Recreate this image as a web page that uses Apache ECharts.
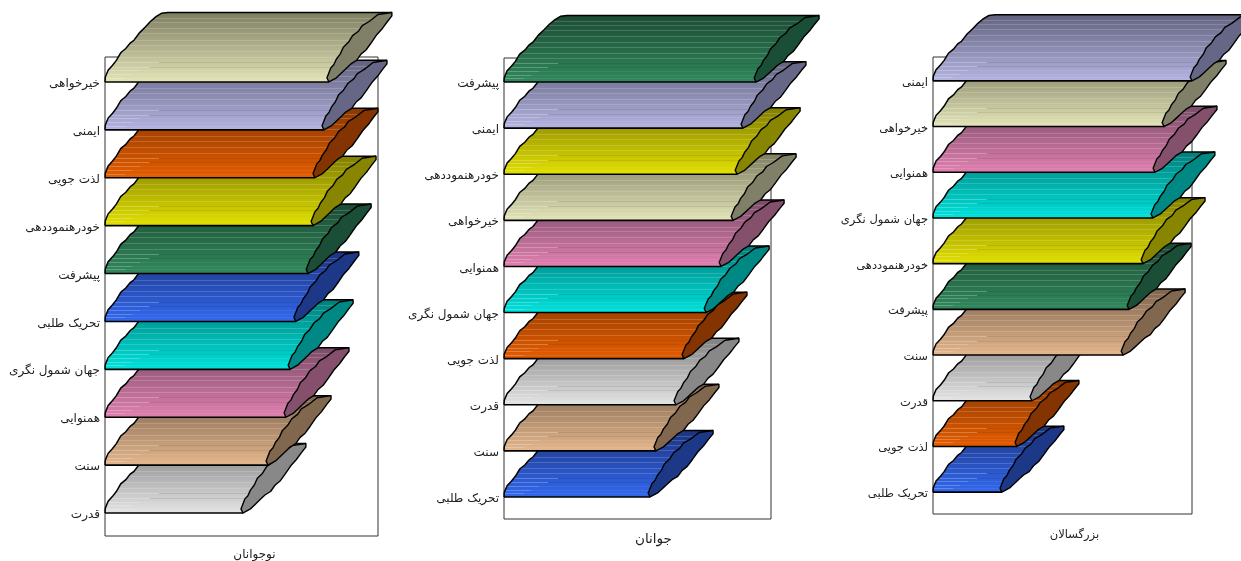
<!DOCTYPE html>
<html><head><meta charset="utf-8">
<style>html,body{margin:0;padding:0;background:#fff}#c{width:1241px;height:561px}</style>
<script src="https://cdn.jsdelivr.net/npm/echarts@6/dist/echarts.min.js"></script>
</head><body><div id="c"></div>
<script>
// Data, listed top row first (percent of each panel's axis)
const titles = ['نوجوانان', 'جوانان', 'بزرگسالان'];
const catsTeen = ['خیرخواهی','ایمنی','لذت جویی','خودرهنموددهی','پیشرفت','تحریک طلبی','جهان شمول نگری','همنوایی','سنت','قدرت'];
const valsTeen = [82.0,80.2,76.9,76.2,74.4,69.9,67.8,66.3,59.7,50.5];
const catsYoung = ['پیشرفت','ایمنی','خودرهنموددهی','خیرخواهی','همنوایی','جهان شمول نگری','لذت جویی','قدرت','سنت','تحریک طلبی'];
const valsYoung = [94.4,89.5,87.3,85.8,81.3,75.7,67.4,64.4,56.9,54.7];
const catsAdult = ['ایمنی','خیرخواهی','همنوایی','جهان شمول نگری','خودرهنموددهی','پیشرفت','سنت','قدرت','لذت جویی','تحریک طلبی'];
const valsAdult = [100,89.2,85.7,84.9,81.1,75.7,73.4,38.2,32.4,26.6];

// Styling: [front colour, back colour, side colour] for each value name
const palette = {
  'خیرخواهی':['#e4e4b8','#7e7e62','#808068'],
  'ایمنی':['#b4b4e2','#62627f','#666686'],
  'لذت جویی':['#e45c00','#8a3800','#843400'],
  'خودرهنموددهی':['#e2e000','#807e00','#888600'],
  'پیشرفت':['#30885c','#1c4c34','#1a4e36'],
  'تحریک طلبی':['#3268ee','#1c3480','#1e3888'],
  'جهان شمول نگری':['#00e2dc','#007e7a','#008884'],
  'همنوایی':['#e080b0','#7c4c68','#84506c'],
  'سنت':['#e4b68c','#7e654e','#82674f'],
  'قدرت':['#e4e4e4','#808080','#888888']
};
const panels = [
  {cats:catsTeen, vals:valsTeen, left:105, top:57, width:273, height:479, dx:63, dy:69.5, nameGap:13, nameSize:12, namePad:26, labelSize:12},
  {cats:catsYoung, vals:valsYoung, left:504, top:58, width:267, height:461, dx:63, dy:66.5, nameGap:13, nameSize:13.5, namePad:32, labelSize:12},
  {cats:catsAdult, vals:valsAdult, left:933, top:57, width:259, height:457, dx:62, dy:66, nameGap:15, nameSize:11.5, namePad:24, labelSize:11.5}
];
// Bar outline shapes, as fractions of the panel's depth offset
const leftEdge = [[0,0],[0.005,-0.07],[0.05,-0.17],[0.12,-0.24],[0.18,-0.31],[0.25,-0.42],[0.33,-0.48],[0.4,-0.56],[0.46,-0.6],[0.55,-0.71],[0.64,-0.79],[0.72,-0.87],[0.81,-0.94],[0.9,-0.99],[1,-1]];
const lensUpper = [[-0.03,-0.06],[0.03,-0.2],[0.08,-0.25],[0.12,-0.33],[0.18,-0.4],[0.23,-0.5],[0.31,-0.57],[0.38,-0.67],[0.47,-0.73],[0.53,-0.81],[0.64,-0.87],[0.78,-0.97],[1,-1]];
const lensLower = [[1,-0.95],[0.93,-0.87],[0.85,-0.77],[0.76,-0.68],[0.67,-0.56],[0.59,-0.46],[0.51,-0.4],[0.44,-0.31],[0.35,-0.26],[0.27,-0.19],[0.19,-0.12],[0.12,-0.06],[0,0]];
const stripeT = [0.06,0.11,0.165,0.22,0.285,0.36,0.44,0.53,0.6,0.7,0.78,0.86,0.92];
const stubLen = [20,26,32,38,44];

function edgeX(edge, t){
  for(let i=1;i<edge.length;i++){
    const a=edge[i-1], b=edge[i];
    if(-b[1]>=t){ const r=(t+a[1])/((-b[1]+a[1])||1); return a[0]+(b[0]-a[0])*r; }
  }
  return 1;
}
function makeRender(pn){
  return function(params, api){
    const val=api.value(0), cat=api.value(1);
    const end=api.coord([val,cat]);
    const x0=api.coord([0,cat])[0];
    const xe=end[0], y=end[1]+1;
    const cols=palette[pn.cats[pn.cats.length-1-cat]];
    const dx=pn.dx, dy=pn.dy;
    const L=leftEdge.map(p=>[x0+p[0]*dx, y+p[1]*dy]);
    const U=lensUpper.map(p=>[xe+p[0]*dx, y+p[1]*dy]);
    const D=lensLower.map(p=>[xe+p[0]*dx, y+p[1]*dy]);
    const kids=[];
    kids.push({type:'polygon',shape:{points:L.concat([[xe+dx,y-dy]],D)},
      style:{fill:{type:'linear',x:0,y:0,x2:0,y2:1,colorStops:[{offset:0,color:cols[1]},{offset:1,color:cols[0]}]},stroke:null}});
    stripeT.forEach((t,i)=>{
      const yy=Math.round(y-t*dy)+0.5;
      const a=x0+edgeX(leftEdge,t)*dx, b=xe+edgeX(lensUpper,t)*dx;
      if(i<stubLen.length){
        const s=Math.min(a+stubLen[i],b);
        kids.push({type:'line',shape:{x1:a,y1:yy,x2:s,y2:yy},style:{stroke:'rgba(255,255,255,0.24)',lineWidth:1}});
        kids.push({type:'line',shape:{x1:s,y1:yy,x2:b,y2:yy},style:{stroke:i>2?'rgba(0,0,0,0.08)':'rgba(255,255,255,0.07)',lineWidth:1}});
      } else {
        kids.push({type:'line',shape:{x1:a,y1:yy,x2:b,y2:yy},style:{stroke:'rgba(255,255,255,0.17)',lineWidth:1}});
      }
    });
    kids.push({type:'polyline',shape:{points:L.concat([[xe+dx,y-dy]])},style:{stroke:'#000',lineWidth:1.5,fill:null}});
    kids.push({type:'line',shape:{x1:x0,y1:y,x2:xe,y2:y},style:{stroke:'#000',lineWidth:1.6}});
    kids.push({type:'polygon',shape:{points:U.concat(D)},style:{fill:cols[2],stroke:'#000',lineWidth:1.4,lineJoin:'round'}});
    return {type:'group',children:kids};
  };
}
const chart=echarts.init(document.getElementById('c'),null,{renderer:'canvas'});
const font='"DejaVu Sans"';
chart.setOption({
  animation:false,
  backgroundColor:'#fff',
  grid:panels.map(p=>({left:p.left,top:p.top,width:p.width,height:p.height,outerBoundsMode:'none',show:true,borderColor:'#333',borderWidth:1,backgroundColor:'transparent'})),
  xAxis:panels.map((p,i)=>({type:'value',gridIndex:i,min:0,max:100,
    axisLine:{show:false},axisTick:{show:false},axisLabel:{show:false},splitLine:{show:false},
    name:titles[i],nameLocation:'middle',nameGap:p.nameGap,nameTextStyle:{fontFamily:font,fontSize:p.nameSize,color:'#222',padding:[0,0,0,p.namePad]}})),
  yAxis:panels.map((p,i)=>({type:'category',gridIndex:i,data:p.cats.slice().reverse(),
    axisLine:{show:false},axisTick:{show:false},splitLine:{show:false},
    axisLabel:{fontFamily:font,fontSize:p.labelSize,color:'#222',margin:5,verticalAlign:'top',lineHeight:6}})),
  series:panels.map((p,i)=>({type:'custom',xAxisIndex:i,yAxisIndex:i,clip:false,
    encode:{x:0,y:1},
    data:p.vals.slice().reverse().map((v,k)=>[v,k]),
    renderItem:makeRender(p)}))
});
</script></body></html>
